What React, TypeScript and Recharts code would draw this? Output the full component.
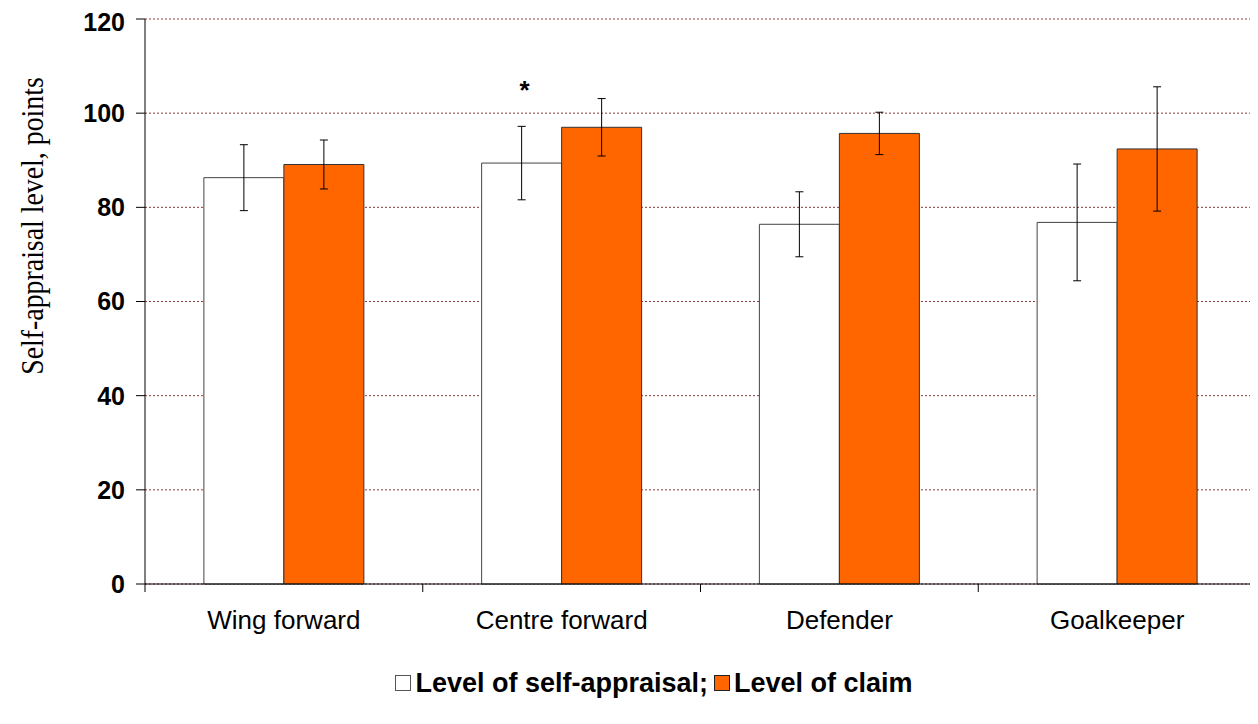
import React from 'react';
import { BarChart, Bar, XAxis, YAxis, CartesianGrid, ErrorBar, LabelList, Legend } from 'recharts';

const positions = ['Wing forward', 'Centre forward', 'Defender', 'Goalkeeper'];
const selfAppraisal = [86.3, 89.4, 76.4, 76.8];
const selfAppraisalSd = [7.0, 7.8, 6.9, 12.4];
const claim = [89.1, 97.0, 95.7, 92.4];
const claimSd = [5.2, 6.1, 4.5, 13.2];
const significance = ['', '*', '', ''];
const yTicks = [0, 20, 40, 60, 80, 100, 120];

const data = positions.map((name, i) => ({
  name,
  self: selfAppraisal[i],
  selfErr: selfAppraisalSd[i],
  claim: claim[i],
  claimErr: claimSd[i],
  mark: significance[i],
}));

const SANS = '"Liberation Sans", Arial, sans-serif';
const SERIF = '"Liberation Serif", "Times New Roman", serif';

function PositionTick(props: any) {
  const { x, y, payload, index, visibleTicksCount } = props;
  const half = payload && payload.offset > 0 ? payload.offset : 138.875;
  return (
    <g>
      <line x1={x - half} y1={y} x2={x - half} y2={y + 8} stroke="#000" />
      {index === visibleTicksCount - 1 && (
        <line x1={x + half} y1={y} x2={x + half} y2={y + 8} stroke="#000" />
      )}
      <text x={x} y={y + 45} textAnchor="middle" fontFamily={SANS} fontSize={26} fill="#000">
        {payload.value}
      </text>
    </g>
  );
}

function LegendBox() {
  const item = { display: 'flex', alignItems: 'center' } as const;
  return (
    <div style={{
      height: 30, display: 'flex', justifyContent: 'center', alignItems: 'center',
      paddingLeft: 44, fontFamily: SANS, fontSize: 27, fontWeight: 700, color: '#000',
    }}>
      <span style={item}>
        <span style={{ width: 14, height: 14, border: '1px solid #555', background: '#fff', marginRight: 4 }} />
        Level of self-appraisal;
      </span>
      <span style={{ ...item, marginLeft: 6 }}>
        <span style={{ width: 14, height: 14, border: '1px solid #222', background: '#FF6600', marginRight: 4 }} />
        Level of claim
      </span>
    </div>
  );
}

function AxisTitle() {
  return (
    <text transform="translate(24 218) rotate(-90) scale(0.87 1)" textAnchor="middle"
      dominantBaseline="central" fontFamily={SERIF} fontSize={32} fill="#000">
      Self-appraisal level, points
    </text>
  );
}

export default function App() {
  return (
    <div style={{ width: 1250, height: 716 }}>
      <BarChart width={1250} height={716} data={data}
        margin={{ top: 11, right: 2, left: 0, bottom: 26 }}
        barCategoryGap="21.2%" barGap={0}>
        <CartesianGrid vertical={false} stroke="#8c3a3a" strokeDasharray="2 2" />
        <XAxis dataKey="name" height={84} tickSize={0} tickMargin={0} tickLine={false}
          axisLine={{ stroke: '#000' }} tick={<PositionTick />} interval={0} />
        <YAxis width={137} domain={[0, 120]} ticks={yTicks} tickSize={9} tickMargin={11}
          axisLine={{ stroke: '#000' }} tickLine={{ stroke: '#000' }}
          tick={{ fill: '#000', fontSize: 25, fontWeight: 700, fontFamily: SANS }}
          label={{ content: <AxisTitle /> }} />
        <Legend verticalAlign="bottom" content={<LegendBox />} />
        <Bar dataKey="self" fill="#fff" stroke="#444" strokeWidth={1} isAnimationActive={false}>
          <ErrorBar dataKey="selfErr" width={4} stroke="#000" strokeWidth={1} />
          <LabelList dataKey="mark" position="top" offset={64} fill="#000" dx={3}
            style={{ fontFamily: SANS, fontSize: 26, fontWeight: 700 }} />
        </Bar>
        <Bar dataKey="claim" fill="#FF6600" stroke="#333" strokeWidth={1} isAnimationActive={false}>
          <ErrorBar dataKey="claimErr" width={4} stroke="#000" strokeWidth={1} />
        </Bar>
      </BarChart>
    </div>
  );
}
